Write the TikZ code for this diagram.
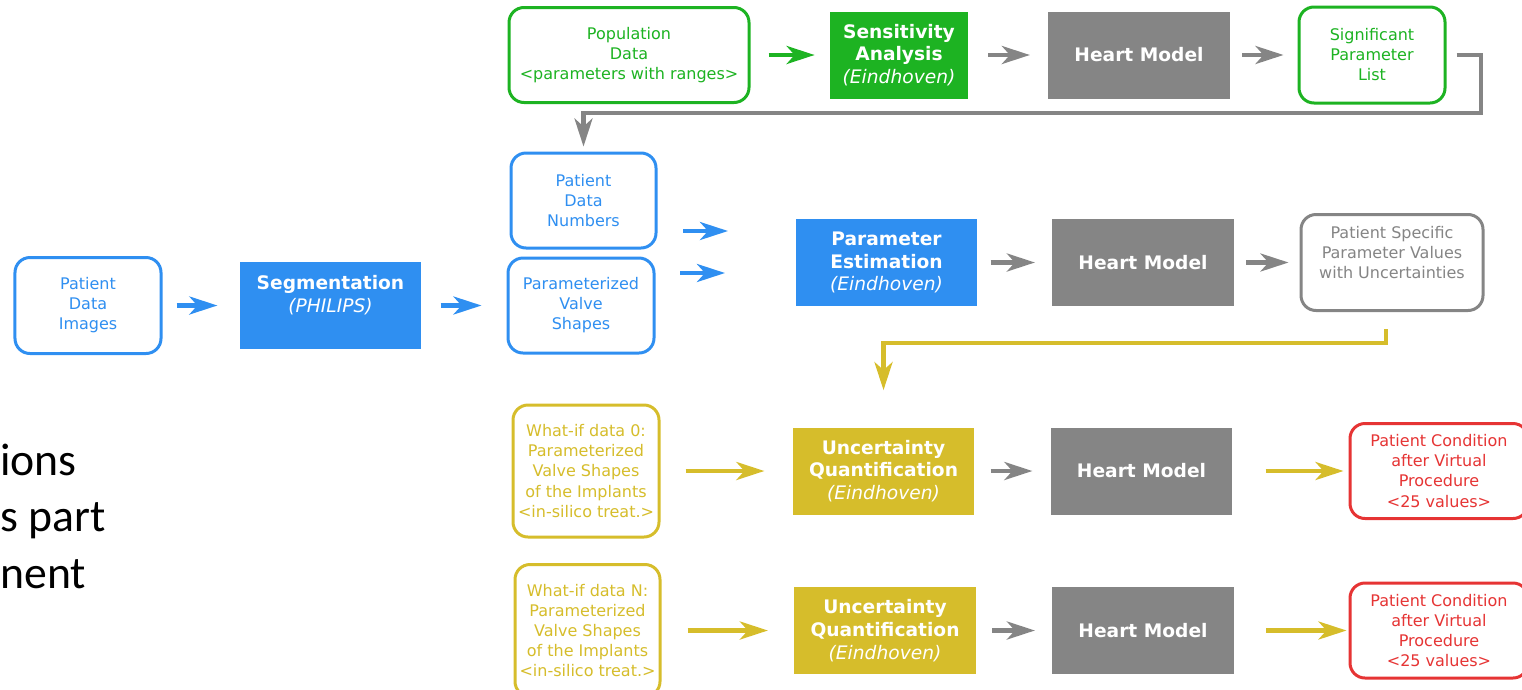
\documentclass[tikz,border=0pt]{standalone}
\usepackage{fontspec}
\setmainfont{DejaVu Sans}
\newfontfamily\calfont{Carlito}
\usetikzlibrary{arrows.meta}
\definecolor{cgreen}{HTML}{1DB322}
\definecolor{cblue}{HTML}{2F8FF1}
\definecolor{cgray}{HTML}{858585}
\definecolor{cyel}{HTML}{D6BD2B}
\definecolor{cred}{HTML}{E63434}
\newcommand\smallf{\fontsize{9.1pt}{11.4pt}\selectfont}
\newcommand\bigf{\fontsize{10.6pt}{13pt}\selectfont}
\tikzset{
  outbox/.style={draw, line width=0.6mm, rounded corners=3mm, fill=white, align=center, font=\smallf, inner sep=0pt},
  solidbox/.style={text=white, align=center, font=\bigf, inner sep=0pt, minimum width=36.3mm, minimum height=17.4mm},
  arr/.style={line width=0.85mm, -{Stealth[length=5.6mm, width=3.6mm, inset=1.6mm]}},
  sidetext/.style={font=\calfont\fontsize{26pt}{30pt}\selectfont, anchor=base west, inner sep=0pt},
}
\begin{document}
\begin{tikzpicture}[x=0.2mm,y=-0.2mm]
\useasboundingbox (0,0) rectangle (1522,689);
\clip (0,0) rectangle (1522,689);

% side text
\node[sidetext] (t1) at (0,475) {ions};
\node[sidetext] (t2) at (0,531) {s part};
\node[sidetext] (t3) at (0,588) {nent};

% top row
\node[outbox, draw=cgreen, text=cgreen, minimum width=48mm, minimum height=19mm] (pop) at (629,55) {Population\\Data\\<parameters with ranges>};
\node[solidbox, fill=cgreen, minimum width=27.6mm] (sens) at (899,55) {\textbf{Sensitivity}\\\textbf{Analysis}\\\textit{(Eindhoven)}};
\node[solidbox, fill=cgray] (hm1) at (1139,55) {\textbf{Heart Model}};
\node[outbox, draw=cgreen, text=cgreen, minimum width=29.2mm, minimum height=19.2mm] (sig) at (1372,55) {Significant\\Parameter\\List};

% middle rows
\node[outbox, draw=cblue, text=cblue, minimum width=29mm, minimum height=19mm] (pdn) at (583.5,200.5) {Patient\\Data\\Numbers};
\node[outbox, draw=cblue, text=cblue, minimum width=29.2mm, minimum height=19mm] (pvs) at (581,305.5) {Parameterized\\Valve\\Shapes};
\node[outbox, draw=cblue, text=cblue, minimum width=29.2mm, minimum height=19.2mm] (pdi) at (88,305.5) {Patient\\Data\\Images};
\node[solidbox, fill=cblue] (seg) at (330.5,305.5) {\textbf{Segmentation}\\\textit{(PHILIPS)}\\\mbox{}};
\node[solidbox, fill=cblue] (pe) at (886.5,262.5) {\textbf{Parameter}\\\textbf{Estimation}\\\textit{(Eindhoven)}};
\node[solidbox, fill=cgray] (hm2) at (1143,262.5) {\textbf{Heart Model}};
\node[outbox, draw=cgray, text=cgray, minimum width=36.4mm, minimum height=19.2mm] (pspv) at (1392,262.5) {Patient Specific\\Parameter Values\\with Uncertainties\\\mbox{}};

% what-if 0 row
\node[outbox, draw=cyel, text=cyel, minimum width=29.2mm, minimum height=26.4mm] (wi0) at (586,471) {What-if data 0:\\Parameterized\\Valve Shapes\\of the Implants\\<in-silico treat.>};
\node[solidbox, fill=cyel] (uq1) at (883.5,471) {\textbf{Uncertainty}\\\textbf{Quantification}\\\textit{(Eindhoven)}};
\node[solidbox, fill=cgray] (hm3) at (1141.5,471) {\textbf{Heart Model}};
\node[outbox, draw=cred, text=cred, minimum width=35.6mm, minimum height=19mm] (pc1) at (1439,471) {Patient Condition\\after Virtual\\Procedure\\<25 values>};

% what-if N row
\node[outbox, draw=cyel, text=cyel, minimum width=29mm, minimum height=26.4mm] (wiN) at (587.5,630.5) {What-if data N:\\Parameterized\\Valve Shapes\\of the Implants\\<in-silico treat.>};
\node[solidbox, fill=cyel] (uq2) at (885,630.5) {\textbf{Uncertainty}\\\textbf{Quantification}\\\textit{(Eindhoven)}};
\node[solidbox, fill=cgray] (hm4) at (1143,630.5) {\textbf{Heart Model}};
\node[outbox, draw=cred, text=cred, minimum width=35.6mm, minimum height=19mm] (pc2) at (1439,630.5) {Patient Condition\\after Virtual\\Procedure\\<25 values>};

% coordinates
\coordinate (fb) at (1481,113);
\coordinate (b1s) at (683,231);
\coordinate (b1e) at (728,231);
\coordinate (b2s) at (680,273);
\coordinate (b2e) at (725,273);
\coordinate (yc) at (883.5,343);

% top row arrows
\draw[arr, cgreen, shorten <=3.6mm, shorten >=3mm] (pop) -- (sens);
\draw[arr, cgray, shorten <=4mm, shorten >=3.6mm] (sens) -- (hm1);
\draw[arr, cgray, shorten <=2.4mm, shorten >=2.8mm] (hm1) -- (sig);
\draw[arr, cgray] ([xshift=2mm]sig.east) -| (fb) -| ([yshift=1mm]pdn.north);

% middle arrows
\draw[arr, cblue, shorten <=2.8mm, shorten >=4.4mm] (pdi) -- (seg);
\draw[arr, cblue, shorten <=3.8mm, shorten >=5mm] (seg) -- (pvs);
\draw[arr, cblue] (b1s) -- (b1e);
\draw[arr, cblue] (b2s) -- (b2e);
\draw[arr, cgray, shorten <=2.6mm, shorten >=3.4mm] (pe) -- (hm2);
\draw[arr, cgray, shorten <=2.4mm, shorten >=2.2mm] (hm2) -- (pspv);
\draw[arr, cyel] ([xshift=-1.2mm,yshift=-3.4mm]pspv.south) |- (yc) -- ([yshift=7.4mm]uq1.north);

% what-if rows arrows
\draw[arr, cyel, shorten <=5mm, shorten >=5.6mm] (wi0) -- (uq1);
\draw[arr, cgray, shorten <=3.2mm, shorten >=3.6mm] (uq1) -- (hm3);
\draw[arr, cyel, shorten <=6.6mm, shorten >=1mm] (hm3) -- (pc1);
\draw[arr, cyel, shorten <=5.2mm, shorten >=5.2mm] (wiN) -- (uq2);
\draw[arr, cgray, shorten <=3.2mm, shorten >=3.4mm] (uq2) -- (hm4);
\draw[arr, cyel, shorten <=6.4mm, shorten >=0.4mm] (hm4) -- (pc2);
\end{tikzpicture}
\end{document}
